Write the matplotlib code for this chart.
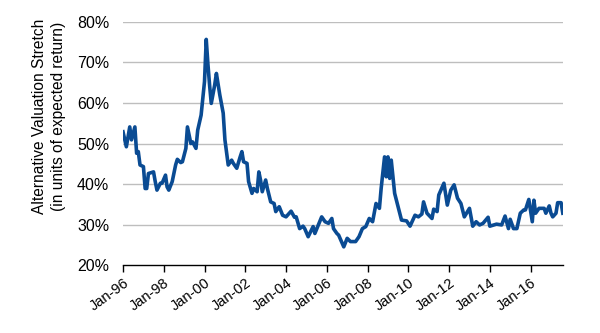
import matplotlib
matplotlib.use("Agg")
import matplotlib.pyplot as plt
import matplotlib.dates as mdates
import numpy as np
import pandas as pd

# Alternative valuation stretch (month, value in %)
months = [
    "1996-01", "1996-03", "1996-05", "1996-06", "1996-08", "1996-09", "1996-10", "1996-11",
    "1997-01", "1997-02", "1997-03", "1997-04", "1997-07", "1997-08", "1997-09", "1997-11", "1997-12",
    "1998-02", "1998-03", "1998-04", "1998-06", "1998-08", "1998-09", "1998-11", "1998-12",
    "1999-02", "1999-03", "1999-05", "1999-06", "1999-08", "1999-09", "1999-11",
    "2000-01", "2000-02", "2000-03", "2000-04", "2000-05", "2000-07", "2000-08", "2000-10", "2000-12",
    "2001-01", "2001-02", "2001-03", "2001-05", "2001-06", "2001-08", "2001-10", "2001-11", "2001-12",
    "2002-02", "2002-03", "2002-05", "2002-06", "2002-08", "2002-09", "2002-10", "2002-11",
    "2003-01", "2003-02", "2003-04", "2003-06", "2003-07", "2003-09", "2003-11",
    "2004-01", "2004-04", "2004-06", "2004-07", "2004-09", "2004-11", "2004-12",
    "2005-02", "2005-05", "2005-06", "2005-10", "2005-12",
    "2006-02", "2006-04", "2006-05", "2006-07", "2006-08", "2006-11",
    "2007-01", "2007-03", "2007-06", "2007-08", "2007-10", "2007-12",
    "2008-02", "2008-04", "2008-06", "2008-08", "2008-09", "2008-11", "2008-12",
    "2009-01", "2009-02", "2009-03", "2009-05", "2009-07", "2009-09", "2009-12",
    "2010-02", "2010-05", "2010-07", "2010-09", "2010-10", "2010-12",
    "2011-03", "2011-04", "2011-06", "2011-07", "2011-10", "2011-12",
    "2012-02", "2012-04", "2012-06", "2012-08", "2012-10",
    "2013-01", "2013-03", "2013-05", "2013-07", "2013-09", "2013-12",
    "2014-01", "2014-05", "2014-08", "2014-10", "2014-12",
    "2015-01", "2015-03", "2015-05", "2015-07", "2015-09", "2015-10", "2015-12",
    "2016-02", "2016-03", "2016-04", "2016-06", "2016-09", "2016-10", "2016-12",
    "2017-01", "2017-02", "2017-04", "2017-05", "2017-07", "2017-08",
]
stretch = [
    52.9, 49.2, 54.1, 50.9, 54.1, 47.6, 48.0, 44.7,
    44.3, 38.9, 38.9, 42.6, 43.0, 40.6, 38.5, 40.2, 40.2,
    42.2, 39.3, 38.5, 40.6, 44.7, 46.1, 45.3, 45.5,
    48.8, 54.1, 50.0, 50.4, 48.8, 53.3, 57.0,
    65.3, 75.7, 69.8, 64.4, 59.9, 64.4, 67.3, 62.0, 57.5,
    50.9, 47.6, 44.7, 45.9, 45.1, 43.9, 46.7, 48.0, 45.5,
    45.1, 40.6, 37.7, 38.9, 38.1, 43.0, 41.0, 38.1,
    41.0, 38.9, 35.6, 35.2, 33.2, 34.4, 32.3,
    31.9, 33.3, 31.8, 31.9, 29.0, 29.6, 29.0,
    27.0, 29.5, 27.8, 31.9, 30.7,
    30.3, 31.5, 29.0, 27.8, 27.4, 24.5,
    26.6, 25.8, 25.8, 27.0, 29.0, 29.5,
    31.5, 30.7, 35.2, 34.0, 38.9, 46.7, 41.8,
    46.7, 41.4, 45.9, 37.7, 34.4, 31.1, 30.9,
    29.6, 32.3, 31.9, 32.6, 35.6, 32.8,
    31.5, 33.8, 33.2, 37.3, 40.2, 34.8,
    38.5, 39.8, 36.5, 35.2, 31.9,
    34.0, 29.6, 30.7, 29.9, 30.3, 31.8,
    29.6, 30.1, 29.9, 32.1, 29.0,
    31.3, 29.0, 29.0, 32.8, 33.6, 33.6, 36.2,
    30.7, 36.0, 32.8, 34.0, 34.0, 32.8, 34.6,
    32.8, 31.9, 32.8, 35.4, 35.4, 32.8,
]
y_ticks = [20, 30, 40, 50, 60, 70, 80]

plt.rcParams['font.family'] = ['Liberation Sans', 'DejaVu Sans']

dates = pd.to_datetime(months)
values = np.array(stretch) / 100.0

fig = plt.figure(figsize=(6.0, 3.33), dpi=100)
ax = fig.add_axes([0.205, 0.204, 0.733, 0.730])

ax.plot(dates, values, color='#0A4B93', linewidth=2.6, solid_joinstyle='round')

ax.set_ylim(0.20, 0.80)
ax.set_yticks([t / 100 for t in y_ticks])
ax.set_yticklabels([f"{t}%" for t in y_ticks], fontsize=11.5)
ax.set_xlim(pd.Timestamp("1996-01-01"), dates[-1])

ax.xaxis.set_major_locator(mdates.YearLocator(2, month=1, day=1))
ax.xaxis.set_major_formatter(mdates.DateFormatter('%b-%y'))
for lab in ax.get_xticklabels():
    lab.set_rotation(36)
    lab.set_ha('right')
    lab.set_rotation_mode('anchor')
    lab.set_fontsize(10.5)

ax.tick_params(axis='y', length=0, pad=10)
ax.tick_params(axis='x', direction='out', length=5, width=1, color='black', pad=3)

for side in ['top', 'right', 'left']:
    ax.spines[side].set_visible(False)
ax.spines['bottom'].set_color('black')
ax.spines['bottom'].set_linewidth(1.0)

for t in y_ticks[1:]:
    ax.axhline(t / 100, color='#BEBEBE', linewidth=1.0, zorder=0)

ax.set_ylabel("Alternative Valuation Stretch\n(in units of expected return)",
              fontsize=11.2, linespacing=1.3)
ax.yaxis.set_label_coords(-0.13, 0.61)

fig.savefig("out.png", dpi=100)
